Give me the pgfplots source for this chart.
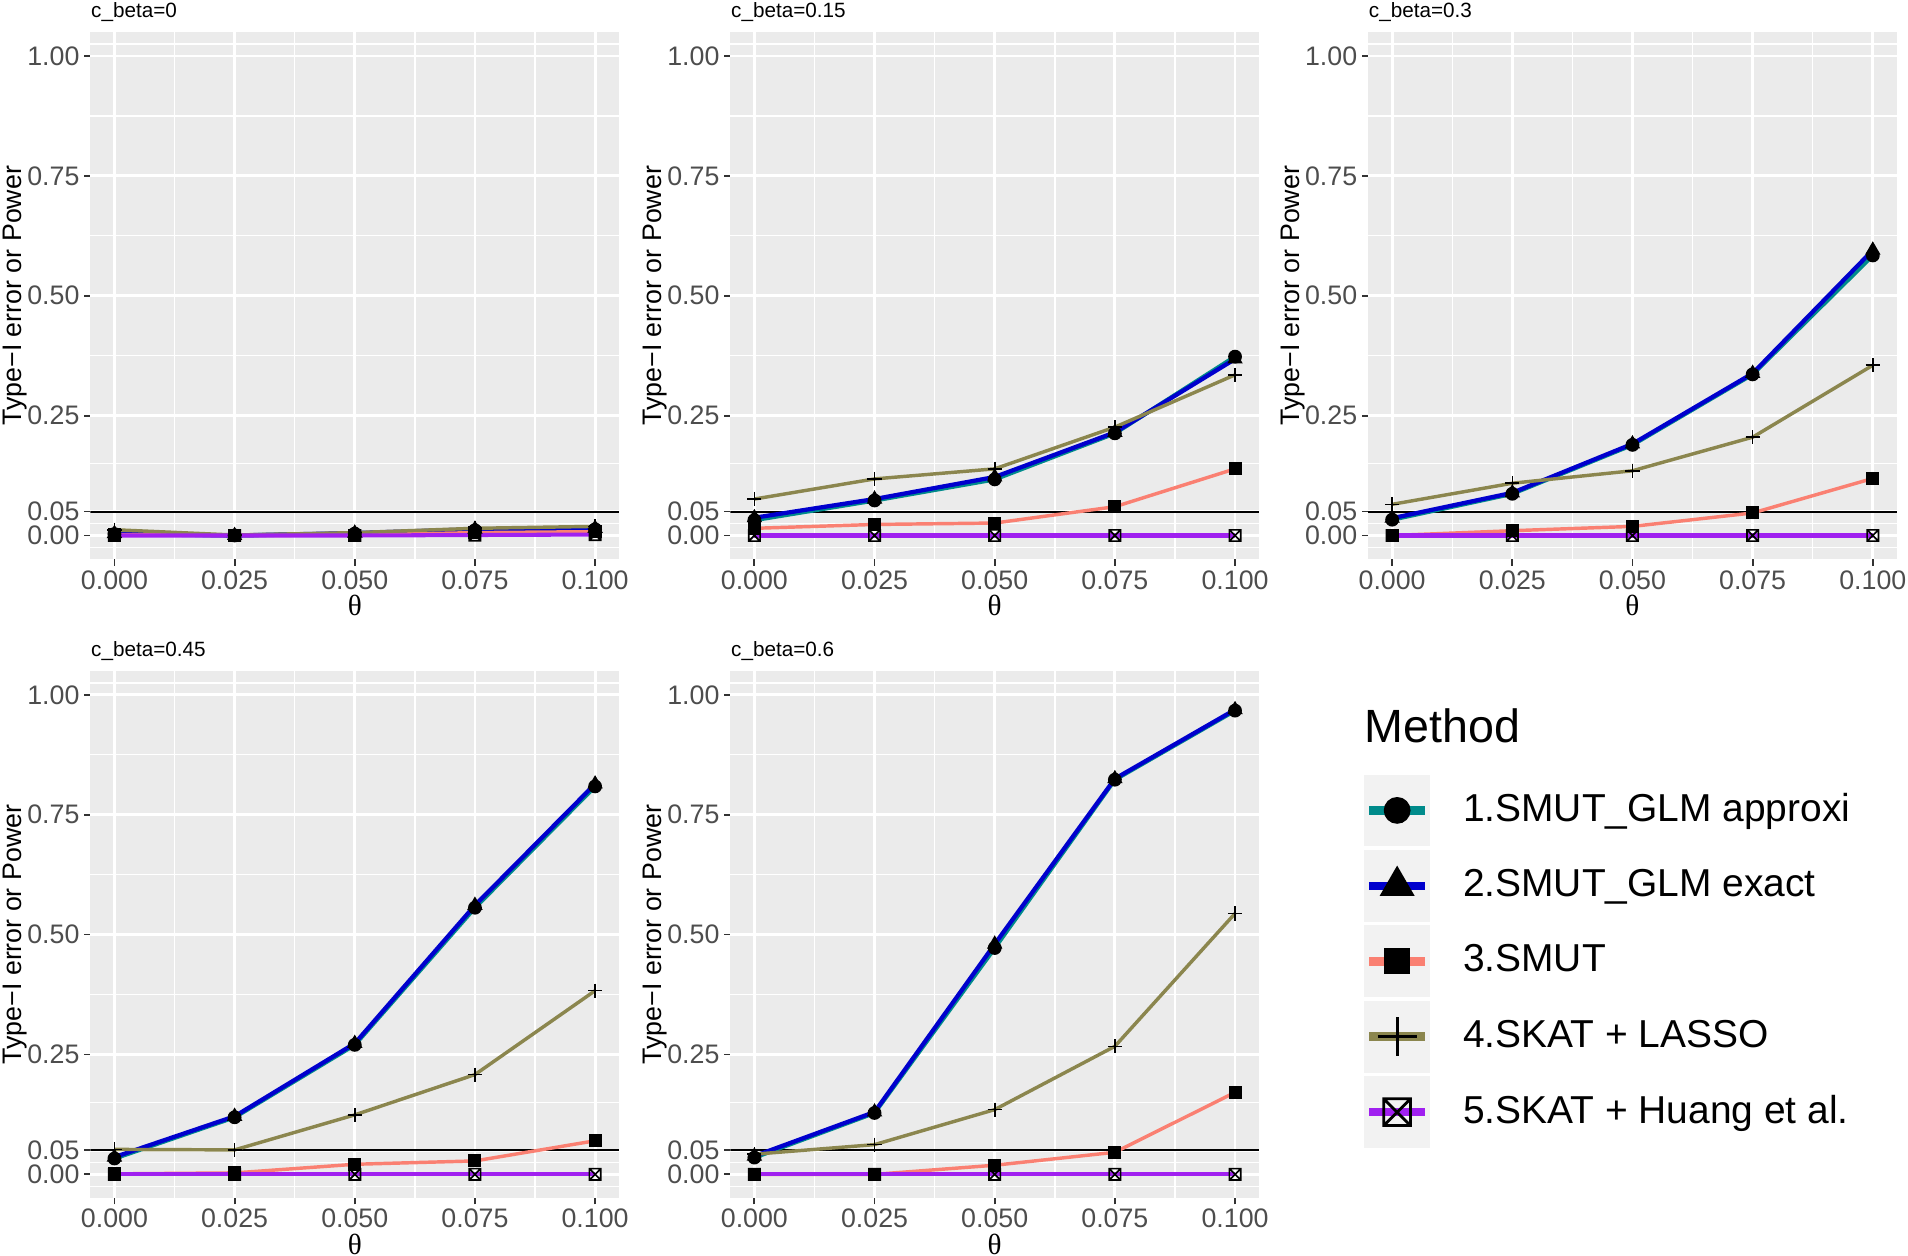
\documentclass[border=0pt]{standalone}
\usepackage{fontspec}
\setmainfont{Liberation Sans}
\newfontfamily\greekserif{Liberation Serif}
\usepackage{pgfplots}
\usepackage{pgfplotstable}
\pgfplotsset{compat=1.18}

\definecolor{panelbg}{RGB}{235,235,235}
\definecolor{keybg}{RGB}{242,242,242}
\definecolor{tickgray}{RGB}{51,51,51}
\definecolor{labgray}{RGB}{77,77,77}
\definecolor{tealc}{RGB}{0,139,139}
\definecolor{bluec}{RGB}{0,0,205}
\definecolor{salmonc}{RGB}{250,128,114}
\definecolor{olivec}{RGB}{139,134,78}
\definecolor{purplec}{RGB}{160,32,240}

% square with a cross (R pch 7)
\pgfdeclareplotmark{boxx}{%
  \pgfpathrectangle{\pgfpoint{-\pgfplotmarksize}{-\pgfplotmarksize}}{\pgfpoint{2\pgfplotmarksize}{2\pgfplotmarksize}}%
  \pgfpathmoveto{\pgfpoint{-\pgfplotmarksize}{-\pgfplotmarksize}}%
  \pgfpathlineto{\pgfpoint{\pgfplotmarksize}{\pgfplotmarksize}}%
  \pgfpathmoveto{\pgfpoint{-\pgfplotmarksize}{\pgfplotmarksize}}%
  \pgfpathlineto{\pgfpoint{\pgfplotmarksize}{-\pgfplotmarksize}}%
  \pgfusepathqstroke}

% s1 GLM approx, s2 GLM exact, s3 SMUT, s4 SKAT+LASSO, s5 SKAT+Huang
\pgfplotstableread{
theta s1 s2 s3 s4 s5
0     0.003 0.004 0.002 0.012 0
0.025 0.000 0.000 0.000 0.001 0
0.05  0.004 0.005 0.001 0.006 0
0.075 0.011 0.013 0.006 0.015 0.001
0.1   0.013 0.015 0.008 0.019 0.002
}\cbA
\pgfplotstableread{
theta s1 s2 s3 s4 s5
0     0.032 0.037 0.015 0.076 0
0.025 0.073 0.076 0.023 0.118 0
0.05  0.117 0.122 0.026 0.139 0
0.075 0.213 0.215 0.060 0.226 0
0.1   0.373 0.368 0.139 0.335 0
}\cbB
\pgfplotstableread{
theta s1 s2 s3 s4 s5
0     0.033 0.036 0.000 0.065 0
0.025 0.087 0.089 0.010 0.109 0
0.05  0.189 0.191 0.019 0.135 0
0.075 0.336 0.338 0.047 0.205 0
0.1   0.584 0.595 0.119 0.355 0
}\cbC
\pgfplotstableread{
theta s1 s2 s3 s4 s5
0     0.033 0.036 0.001 0.052 0
0.025 0.119 0.121 0.003 0.051 0
0.05  0.270 0.273 0.021 0.124 0
0.075 0.556 0.561 0.028 0.208 0
0.1   0.809 0.814 0.070 0.383 0
}\cbD
\pgfplotstableread{
theta s1 s2 s3 s4 s5
0     0.035 0.038 0.000 0.042 0
0.025 0.128 0.130 0.000 0.062 0
0.05  0.472 0.480 0.019 0.135 0
0.075 0.823 0.825 0.046 0.267 0
0.1   0.967 0.969 0.171 0.544 0
}\cbE

\pgfplotsset{
  facet/.style={
    scale only axis, width=130.35pt, height=130.05pt,
    xmin=-0.005, xmax=0.105, ymin=-0.05, ymax=1.05,
    axis background/.style={fill=panelbg},
    axis line style={draw=none},
    xtick={0,0.025,0.05,0.075,0.1},
    xticklabels={0.000,0.025,0.050,0.075,0.100},
    ytick={0,0.05,0.25,0.5,0.75,1},
    yticklabels={0.00,0.05,0.25,0.50,0.75,1.00},
    minor xtick={0.0125,0.0375,0.0625,0.0875},
    minor ytick={-0.025,0.025,0.15,0.375,0.625,0.875,1.025},
    grid=both,
    major grid style={white, line width=0.7pt},
    minor grid style={white, line width=0.35pt},
    tick align=outside, tickpos=left,
    major tick length=1.5pt, minor tick length=0pt,
    tick style={tickgray, line width=0.45pt},
    ticklabel style={font=\fontsize{6.6}{7}\selectfont, text=labgray, inner sep=1pt},
    every axis title/.style={at={(axis description cs:0,1)}, anchor=base west, yshift=3.45pt,
      inner sep=0pt, font=\fontsize{5.1}{6}\selectfont},
    every axis y label/.style={at={(axis description cs:-0.1427,0.5)}, rotate=90,
      anchor=center, font=\fontsize{6.6}{7}\selectfont},
    every axis x label/.style={at={(axis description cs:0.5,-0.0877)},
      anchor=center, font=\fontsize{7.2}{8}\selectfont},
    ylabel={Type−I error or Power},
    xlabel={\greekserif θ},
  }
}

\newcommand{\facetpanel}[3]{%
\begin{axis}[facet, at={#3}, anchor=north west, title={#2}]
  \addplot[forget plot, black, line width=0.5pt] coordinates {(-0.005,0.05) (0.105,0.05)};
  \addplot[forget plot, tealc, line width=1.05pt] table[x=theta, y=s1] {#1};
  \addplot[forget plot, bluec, line width=1.05pt] table[x=theta, y=s2] {#1};
  \addplot[forget plot, salmonc, line width=0.85pt] table[x=theta, y=s3] {#1};
  \addplot[forget plot, olivec, line width=0.85pt] table[x=theta, y=s4] {#1};
  \addplot[forget plot, purplec, line width=1pt] table[x=theta, y=s5] {#1};
  \addplot[forget plot, only marks, mark=*, mark size=1.5pt, mark options={black, fill=black}] table[x=theta, y=s1] {#1};
  \addplot[forget plot, only marks, mark=triangle*, mark size=1.8pt, mark options={black, fill=black}] table[x=theta, y=s2] {#1};
  \addplot[forget plot, only marks, mark=square*, mark size=1.4pt, mark options={black, fill=black}] table[x=theta, y=s3] {#1};
  \addplot[forget plot, only marks, mark=+, mark size=1.75pt, mark options={black, line width=0.4pt}] table[x=theta, y=s4] {#1};
  \addplot[forget plot, only marks, mark=boxx, mark size=1.4pt, mark options={black, line width=0.4pt}] table[x=theta, y=s5] {#1};
\end{axis}}

\begin{document}
\begin{tikzpicture}
\path[use as bounding box] (0,0) rectangle (470.4pt,309.6pt);

\facetpanel{\cbA}{c\_beta=0}{(22.29pt,301.71pt)}
\facetpanel{\cbB}{c\_beta=0.15}{(180.06pt,301.71pt)}
\facetpanel{\cbC}{c\_beta=0.3}{(337.29pt,301.71pt)}
\facetpanel{\cbD}{c\_beta=0.45}{(22.29pt,144.21pt)}
\facetpanel{\cbE}{c\_beta=0.6}{(180.06pt,144.21pt)}

\node[anchor=base west, inner sep=0pt, font=\fontsize{11.5}{12}\selectfont] at (336.3pt,126.55pt) {Method};

\begin{axis}[hide axis, scale only axis, width=120pt, height=90pt,
  at={(336.3pt,118.65pt)}, anchor=north west,
  xmin=0, xmax=1, ymin=0, ymax=1,
  legend cell align=left,
  legend style={at={(axis description cs:0,1)}, anchor=north west, draw=none, fill=none,
    inner sep=0pt, outer sep=0pt, row sep=0.9pt, column sep=0pt,
    font=\fontsize{9.6}{11}\selectfont,
    nodes={inner sep=0pt, outer sep=0pt}},
  legend image code/.code={
    \fill[keybg] (0pt,-8.65pt) rectangle (15.9pt,8.65pt);
    \draw[#1, line width=2.1pt] (1.1pt,0pt) -- (14.8pt,0pt);
    \draw[#1] plot coordinates {(7.95pt,0pt)};
    \path (24pt,0pt);
  }]
\addlegendimage{tealc, mark=*, mark size=3.1pt, mark options={black, fill=black}}
\addlegendentry{1.SMUT\_GLM approxi}
\addlegendimage{bluec, mark=triangle*, mark size=4.6pt, mark options={black, fill=black}}
\addlegendentry{2.SMUT\_GLM exact}
\addlegendimage{salmonc, mark=square*, mark size=3pt, mark options={black, fill=black}}
\addlegendentry{3.SMUT}
\addlegendimage{olivec, mark=+, mark size=4.8pt, mark options={black, line width=0.7pt}}
\addlegendentry{4.SKAT + LASSO}
\addlegendimage{purplec, mark=boxx, mark size=3.3pt, mark options={black, line width=0.7pt}}
\addlegendentry{5.SKAT + Huang et al.}
\end{axis}
\end{tikzpicture}
\end{document}
